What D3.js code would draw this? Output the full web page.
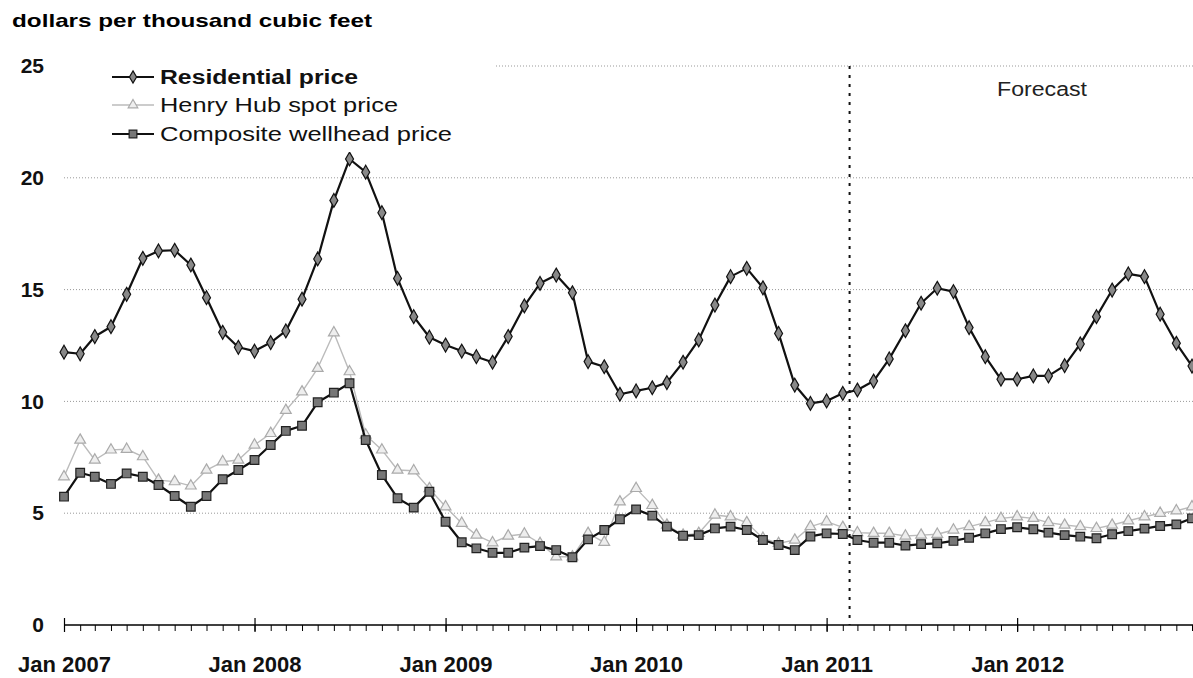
<!DOCTYPE html>
<html>
<head>
<meta charset="utf-8">
<script src="https://cdnjs.cloudflare.com/ajax/libs/d3/7.8.5/d3.min.js"></script>
<style>
    body { margin: 0; background: #fff; }
    svg { display: block; font-family: "Liberation Sans", Arial, sans-serif; }
</style>
</head>
<body>
<div id="chart"></div>
<script>
// monthly prices, Jan 2007 - Dec 2012, dollars per thousand cubic feet
var firstMonth = new Date(Date.UTC(2007, 0, 1)),
    lastMonth = new Date(Date.UTC(2012, 11, 1)),
    forecastStart = new Date(Date.UTC(2011, 1, 14));

var yTicks = [0, 5, 10, 15, 20, 25];

var residential = [
    12.2, 12.13, 12.9, 13.34, 14.79, 16.4, 16.73, 16.76, 16.1, 14.64, 13.09, 12.42,
    12.25, 12.63, 13.15, 14.57, 16.37, 18.99, 20.84, 20.25, 18.44, 15.5, 13.79, 12.87,
    12.52, 12.25, 12.0, 11.75, 12.9, 14.27, 15.28, 15.65, 14.86, 11.78, 11.55, 10.32,
    10.47, 10.61, 10.84, 11.75, 12.75, 14.31, 15.58, 15.95, 15.08, 13.04, 10.73, 9.91,
    10.02, 10.36, 10.51, 10.91, 11.9, 13.16, 14.39, 15.06, 14.91, 13.3, 12.0, 10.99,
    10.99, 11.14, 11.14, 11.6, 12.57, 13.79, 14.98, 15.7, 15.58, 13.9, 12.6, 11.58
];

var henryHub = [
    6.63, 8.27, 7.38, 7.83, 7.86, 7.53, 6.48, 6.41, 6.22, 6.93, 7.3, 7.38,
    8.05, 8.57, 9.6, 10.43, 11.48, 13.07, 11.33, 8.5, 7.83, 6.93, 6.9, 6.1,
    5.29, 4.55, 4.02, 3.68, 3.98, 4.07, 3.65, 3.05, 3.05, 4.1, 3.7, 5.51,
    6.11, 5.35, 4.47, 4.02, 4.1, 4.92, 4.84, 4.58, 3.88, 3.65, 3.8, 4.4,
    4.62, 4.37, 4.13, 4.1, 4.1, 3.98, 4.02, 4.06, 4.25, 4.4, 4.58, 4.77,
    4.84, 4.77, 4.58, 4.47, 4.4, 4.32, 4.47, 4.66, 4.84, 5.0, 5.11, 5.29
];

var wellhead = [
    5.74, 6.81, 6.63, 6.31, 6.78, 6.63, 6.26, 5.77, 5.29, 5.77, 6.52, 6.93,
    7.38, 8.05, 8.68, 8.91, 9.96, 10.39, 10.81, 8.27, 6.71, 5.67, 5.25, 5.96,
    4.62, 3.7, 3.43, 3.23, 3.23, 3.46, 3.53, 3.35, 3.03, 3.83, 4.25, 4.73,
    5.17, 4.89, 4.4, 3.99, 4.02, 4.32, 4.4, 4.25, 3.8, 3.58, 3.35, 3.96,
    4.1, 4.07, 3.8, 3.68, 3.68, 3.55, 3.62, 3.65, 3.76, 3.9, 4.1, 4.29,
    4.37, 4.28, 4.13, 4.02, 3.95, 3.88, 4.06, 4.2, 4.31, 4.43, 4.5, 4.77
];

var width = 1193, height = 678;
var months = d3.utcMonth.range(firstMonth, d3.utcMonth.offset(lastMonth, 1));

var svg = d3.select("#chart").append("svg")
    .attr("width", width)
    .attr("height", height);

var x = d3.scaleUtc().domain([firstMonth, lastMonth]).range([64, 1192]);
var y = d3.scaleLinear().domain([0, 25]).range([625, 66]);

// title
svg.append("text")
    .attr("x", 12).attr("y", 27)
    .attr("font-size", 19).attr("font-weight", "bold")
    .attr("textLength", 360).attr("lengthAdjust", "spacingAndGlyphs")
    .text("dollars per thousand cubic feet");

// grid
svg.append("g")
    .selectAll("line")
    .data(yTicks.filter(function (d) { return d > 0; }))
    .enter().append("line")
    .attr("x1", 64).attr("x2", width)
    .attr("y1", function (d) { return y(d); })
    .attr("y2", function (d) { return y(d); })
    .attr("stroke", "#999")
    .attr("stroke-width", 1)
    .attr("stroke-dasharray", "1,2");

// y labels
var yAxis = svg.append("g")
    .attr("transform", "translate(64,0)")
    .call(d3.axisLeft(y).tickValues(yTicks).tickSize(0).tickPadding(20));
yAxis.select(".domain").remove();
yAxis.selectAll("text")
    .attr("font-size", 21).attr("font-weight", "bold")
    .attr("font-family", "Liberation Sans, Arial, sans-serif")
    .attr("fill", "#111");

// x axis: month ticks, year ticks with labels
var monthAxis = svg.append("g")
    .attr("transform", "translate(0," + y(0) + ")")
    .call(d3.axisBottom(x).tickValues(months).tickSize(6).tickFormat(""));
monthAxis.select(".domain").attr("stroke", "#000").attr("stroke-width", 1.5)
    .attr("d", "M64,0H" + width);

var yearAxis = svg.append("g")
    .attr("transform", "translate(0," + y(0) + ")")
    .call(d3.axisBottom(x).ticks(d3.utcYear.every(1)).tickSize(7)
        .tickFormat(d3.utcFormat("Jan %Y")));
yearAxis.select(".domain").remove();
yearAxis.selectAll("line").attr("y1", -7).attr("stroke-width", 1.2);
yearAxis.selectAll("text")
    .attr("y", 47).attr("dy", 0)
    .attr("font-size", 22).attr("font-weight", "bold")
    .attr("font-family", "Liberation Sans, Arial, sans-serif")
    .attr("fill", "#111");

// forecast divider
svg.append("line")
    .attr("x1", x(forecastStart)).attr("x2", x(forecastStart))
    .attr("y1", y(25)).attr("y2", y(0))
    .attr("stroke", "#111")
    .attr("stroke-width", 2)
    .attr("stroke-dasharray", "3,6");

svg.append("text")
    .attr("x", 997).attr("y", 96)
    .attr("font-size", 20).attr("fill", "#222")
    .attr("textLength", 90).attr("lengthAdjust", "spacingAndGlyphs")
    .text("Forecast");

var series = [
    { name: "Henry Hub spot price", values: henryHub, line: "#bbb", width: 1.4,
      symbol: d3.symbolTriangle, size: 50, fill: "#eee", stroke: "#aaa" },
    { name: "Composite wellhead price", values: wellhead, line: "#111", width: 2.2,
      symbol: d3.symbolSquare, size: 75, fill: "#777", stroke: "#222" },
    { name: "Residential price", values: residential, line: "#111", width: 2.2,
      symbol: d3.symbolDiamond, size: 55, fill: "#888", stroke: "#111" }
];

var line = d3.line()
    .x(function (d, i) { return x(months[i]); })
    .y(function (d) { return y(d); });

series.forEach(function (s) {
    svg.append("path")
        .datum(s.values)
        .attr("fill", "none")
        .attr("stroke", s.line)
        .attr("stroke-width", s.width)
        .attr("stroke-linejoin", "round")
        .attr("d", line);

    svg.append("g")
        .selectAll("path")
        .data(s.values)
        .enter().append("path")
        .attr("d", d3.symbol().type(s.symbol).size(s.size))
        .attr("transform", function (d, i) {
            return "translate(" + x(months[i]) + "," + y(d) + ")";
        })
        .attr("fill", s.fill)
        .attr("stroke", s.stroke)
        .attr("stroke-width", 1.2);
});

// legend (white box hides the top grid line behind it)
var legend = svg.append("g");
legend.append("rect")
    .attr("x", 64).attr("y", 56).attr("width", 430).attr("height", 96)
    .attr("fill", "#fff");

var legendRows = [
    { s: series[2], y: 77, len: 198, bold: true },
    { s: series[0], y: 105, len: 238, bold: false },
    { s: series[1], y: 134, len: 292, bold: false }
];

legendRows.forEach(function (r) {
    legend.append("line")
        .attr("x1", 112).attr("x2", 154)
        .attr("y1", r.y).attr("y2", r.y)
        .attr("stroke", r.s.line)
        .attr("stroke-width", r.s.width);
    legend.append("path")
        .attr("d", d3.symbol().type(r.s.symbol).size(r.s.size * 0.8))
        .attr("transform", "translate(133," + r.y + ")")
        .attr("fill", r.s.fill)
        .attr("stroke", r.s.stroke)
        .attr("stroke-width", 1.2);
    legend.append("text")
        .attr("x", 160).attr("y", r.y + 7)
        .attr("font-size", 20)
        .attr("font-weight", r.bold ? "bold" : "normal")
        .attr("fill", "#111")
        .attr("textLength", r.len).attr("lengthAdjust", "spacingAndGlyphs")
        .text(r.s.name);
});
</script>
</body>
</html>
